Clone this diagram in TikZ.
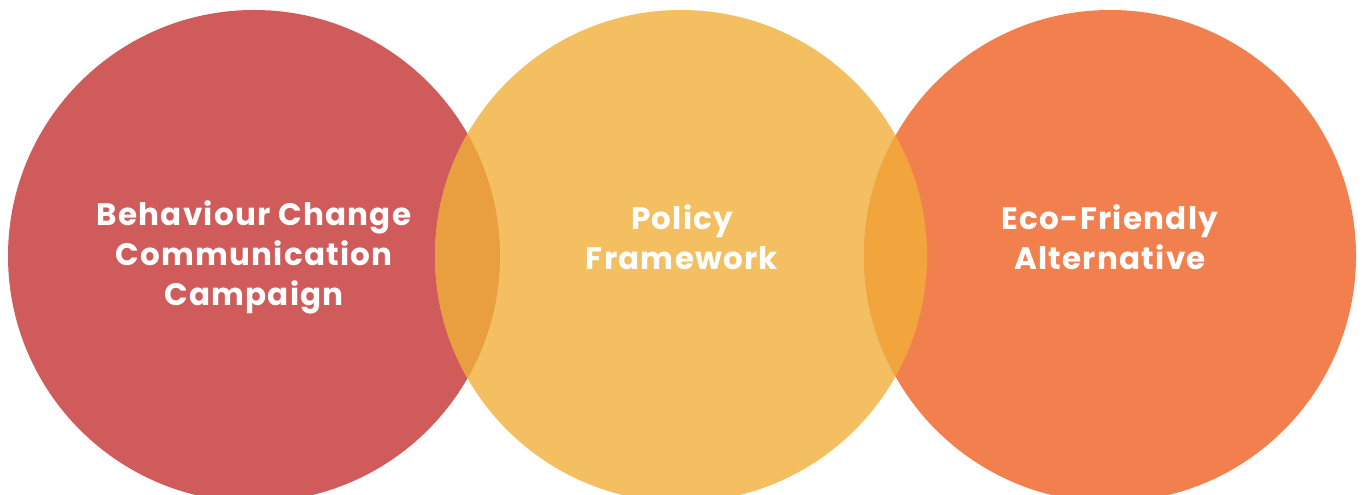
\documentclass[tikz,border=0pt]{standalone}
\usepackage{fontspec}
\setmainfont{Poppins}[LetterSpace=4]

\definecolor{redcirc}{HTML}{D05B5B}
\definecolor{yellowcirc}{HTML}{F4BF60}
\definecolor{orangecirc}{HTML}{F2804F}
\definecolor{lensleft}{HTML}{E99E3F}
\definecolor{lensright}{HTML}{F2A53D}

\begin{document}
\begin{tikzpicture}[x=1pt, y=1pt,
		label/.style={text=white, align=center, inner sep=0pt,
			font=\fontsize{31}{40}\selectfont\bfseries}]
		\useasboundingbox (0,0) rectangle (1362,495);
		%		\draw[lightgray] (0,0) grid[step=100] (1362,495);
				\coordinate (behaviour) at (254,239);
				\coordinate (policy) at (681,239);
				\coordinate (eco) at (1110,239);
				
				\fill[redcirc] (behaviour) circle (246); % left
				\fill[yellowcirc] (policy) circle (246); % middle
				\fill[orangecirc] (eco) circle (246); % right
				
				% overlaps
				\begin{scope}
					\clip (behaviour) circle (246);
					\fill[lensleft] (policy) circle (246);
				\end{scope}
				\begin{scope}
					\clip (policy) circle (246);
					\fill[lensright] (eco) circle (246);
				\end{scope}
				
				\node[label] (behaviourtext) at (254,238) {Behaviour Change\\Communication\\Campaign};
				\node[label] (policytext) at (682,258) {Policy\\Framework};
				\node[label] (ecotext) at (1110,258) {Eco-Friendly\\Alternative};
				
			\end{tikzpicture}
\end{document}
